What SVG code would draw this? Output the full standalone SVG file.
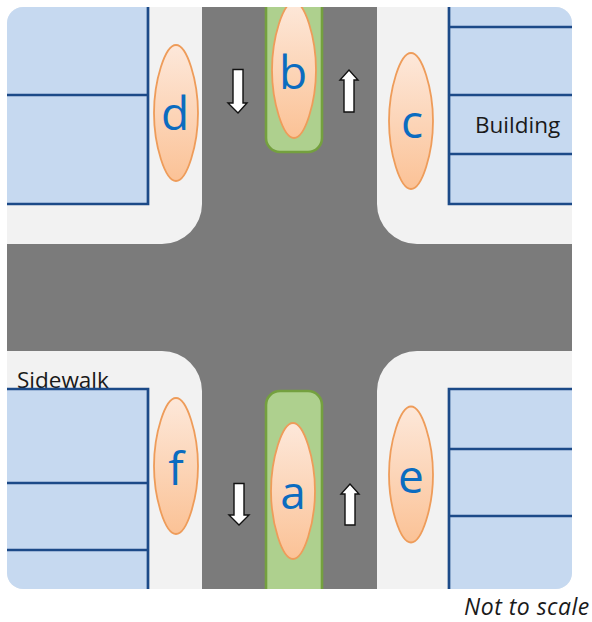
<svg xmlns="http://www.w3.org/2000/svg" width="592" height="622" viewBox="0 0 592 622">
<style>
.ped{fill:url(#pg);stroke:#ee9c5a;stroke-width:1.8}
.lab{font-family:"Open Sans","Noto Sans",sans-serif;font-size:46px;fill:#0b6cc0;text-anchor:middle}
.med{fill:#aed08e;stroke:#74a03f;stroke-width:2.6}
.bld{fill:#c6d9f0}
.ln{stroke:#1c4a88;stroke-width:2.7;fill:none}
.arr{fill:#fff;stroke:#111;stroke-width:1.4}
.txt{font-family:"Open Sans","Noto Sans",sans-serif;font-size:22.5px;fill:#1a1a1a}
</style>
<defs>
<linearGradient id="pg" x1="0" y1="0" x2="0" y2="1"><stop offset="0" stop-color="#fde8da"/><stop offset="1" stop-color="#fbc296"/></linearGradient>
<clipPath id="cp"><rect x="7" y="7" width="565" height="582" rx="16"/></clipPath>
<clipPath id="sq"><rect x="7" y="7" width="565" height="582"/></clipPath>
<path id="lens" d="M0 -68C11 -68 22 -32 22 0C22 32 11 68 0 68C-11 68 -22 32 -22 0C-22 -32 -11 -68 0 -68Z"/>
</defs>
<rect width="592" height="622" fill="#fff"/>
<g clip-path="url(#cp)">
<rect x="7" y="7" width="565" height="582" fill="#f2f2f2"/>
<rect class="bld" x="7" y="7" width="141" height="197"/>
<rect class="bld" x="449" y="7" width="123" height="197"/>
<rect class="bld" x="7" y="389" width="141" height="200"/>
<rect class="bld" x="449" y="389" width="123" height="200"/>
</g>
<path id="road" clip-path="url(#sq)" fill="#7b7b7b" d="M202 7H377V204A40 40 0 0 0 417 244H572V351H417A40 40 0 0 0 377 391V589H202V391A40 40 0 0 0 162 351H7V244H162A40 40 0 0 0 202 204Z"/>
<text class="txt" x="17" y="388">Sidewalk</text>
<g id="building-lines" clip-path="url(#sq)">
<path class="ln" d="M148 0V204H0M0 95H148"/>
<path class="ln" d="M449 0V204H580M449 27H580M449 95H580M449 154H580"/>
<path class="ln" d="M0 389H148V600M0 483H148M0 550H148"/>
<path class="ln" d="M449 600V389H580M449 449H580M449 516H580"/>
</g>
<g id="medians" clip-path="url(#sq)">
<path id="median-b" class="med" d="M266 0V138A14 14 0 0 0 280 152H308A14 14 0 0 0 322 138V0Z"/>
<path id="median-a" class="med" d="M266 600V405A14 14 0 0 1 280 391H308A14 14 0 0 1 322 405V600Z"/>
</g>
<g id="connectors">
<path class="arr" d="M233 69.500H243V103H247L238 113L228 103H233Z"/>
<path class="arr" d="M344 112H354V80H358L349 70L340 80H344Z"/>
<path class="arr" d="M234 483.500H244V515H249L239 525L229 515H234Z"/>
<path class="arr" d="M345 525H355V494H359L350 484L341 494H345Z"/>
</g>
<g id="node-a"><use class="ped" href="#lens" x="293" y="491"/><text class="lab" x="293" y="509">a</text></g>
<g id="node-b" clip-path="url(#sq)"><use class="ped" href="#lens" x="294" y="70"/><text class="lab" x="293" y="89">b</text></g>
<g id="node-c"><use class="ped" href="#lens" x="411" y="121"/><text class="lab" x="412" y="138">c</text></g>
<g id="node-d"><use class="ped" href="#lens" x="176" y="113"/><text class="lab" x="175" y="130">d</text></g>
<g id="node-e"><use class="ped" href="#lens" x="411" y="474.500"/><text class="lab" x="411" y="493">e</text></g>
<g id="node-f"><use class="ped" href="#lens" x="176" y="466"/><text class="lab" x="176" y="485">f</text></g>
<text class="txt" x="475" y="133">Building</text>
<text x="464" y="615" font-family="'Open Sans','Noto Sans',sans-serif" font-style="italic" font-size="23" letter-spacing="0.5" fill="#1a1a1a">Not to scale</text>
</svg>
